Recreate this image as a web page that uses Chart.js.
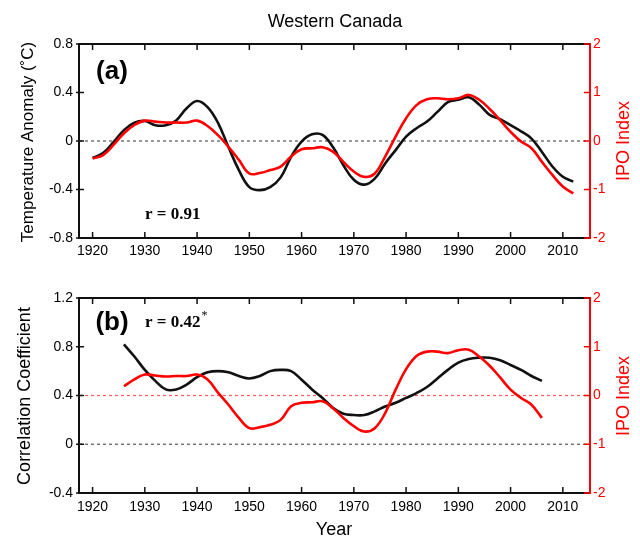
<!DOCTYPE html>
<html>
<head>
<meta charset="utf-8">
<script src="https://cdn.jsdelivr.net/npm/chart.js@4.4.1/dist/chart.umd.min.js"></script>
<style>
  html, body { margin: 0; padding: 0; background: #fff; }
  #wrap { position: relative; width: 640px; height: 539px; overflow: hidden; }
  canvas { position: absolute; left: 0; }
  #c1 { top: 0; }
  #c2 { top: 270px; }
</style>
</head>
<body>
<div id="wrap">
  <canvas id="c1" width="640" height="270"></canvas>
  <canvas id="c2" width="640" height="269"></canvas>
</div>
<script>
// ---------- DATA ----------
const chartTitle = 'Western Canada';
const xTickValues = [1920, 1930, 1940, 1950, 1960, 1970, 1980, 1990, 2000, 2010];

const yearsTop = [1920,1922,1924,1926,1928,1930,1932,1934,1936,1938,1940,1942,1944,1946,1948,1950,1952,1954,1956,1958,1960,1962,1964,1966,1968,1970,1972,1974,1976,1978,1980,1982,1984,1986,1988,1990,1992,1994,1996,1998,2000,2002,2004,2006,2008,2010,2012];
const tempAnomaly = [-0.14,-0.10,-0.01,0.09,0.15,0.165,0.13,0.13,0.17,0.27,0.33,0.28,0.15,-0.05,-0.24,-0.38,-0.405,-0.38,-0.30,-0.13,-0.005,0.055,0.05,-0.05,-0.20,-0.32,-0.36,-0.31,-0.185,-0.075,0.036,0.105,0.16,0.24,0.32,0.34,0.36,0.30,0.215,0.18,0.13,0.08,0.02,-0.09,-0.21,-0.295,-0.335];
const ipoTop = [-0.36,-0.29,-0.08,0.16,0.33,0.42,0.40,0.38,0.38,0.38,0.42,0.31,0.12,-0.12,-0.39,-0.67,-0.66,-0.60,-0.53,-0.32,-0.17,-0.15,-0.13,-0.22,-0.43,-0.63,-0.74,-0.67,-0.32,0.09,0.47,0.74,0.86,0.88,0.86,0.88,0.95,0.85,0.66,0.43,0.19,-0.01,-0.15,-0.43,-0.70,-0.94,-1.08];

const yearsBot = [1926,1928,1930,1932,1934,1936,1938,1940,1942,1944,1946,1948,1950,1952,1954,1956,1958,1960,1962,1964,1966,1968,1970,1972,1974,1976,1978,1980,1982,1984,1986,1988,1990,1992,1994,1996,1998,2000,2002,2004,2006];
const corrCoef = [0.82,0.72,0.61,0.52,0.45,0.45,0.49,0.55,0.59,0.60,0.59,0.56,0.54,0.56,0.60,0.61,0.60,0.53,0.45,0.38,0.30,0.25,0.24,0.24,0.27,0.31,0.34,0.38,0.42,0.47,0.54,0.61,0.67,0.70,0.71,0.71,0.69,0.65,0.61,0.56,0.52];
const ipoBot = [0.19,0.33,0.43,0.41,0.39,0.40,0.40,0.43,0.33,0.06,-0.19,-0.46,-0.67,-0.65,-0.60,-0.50,-0.22,-0.15,-0.14,-0.12,-0.26,-0.46,-0.63,-0.74,-0.67,-0.36,0.12,0.54,0.81,0.90,0.90,0.87,0.93,0.94,0.80,0.61,0.37,0.12,-0.05,-0.19,-0.46];

const yTopTicks = [-0.8, -0.4, 0, 0.4, 0.8];
const yTopLabels = ['-0.8', '-0.4', '0', '0.4', '0.8'];
const yBotTicks = [-0.4, 0, 0.4, 0.8, 1.2];
const yBotLabels = ['-0.4', '0', '0.4', '0.8', '1.2'];
const ipoTicks = [-2, -1, 0, 1, 2];
const ipoLabels = ['-2', '-1', '0', '1', '2'];

// ---------- STYLE ----------
const RED = 'rgb(255,0,0)';
const BLACK = '#111111';
Chart.defaults.font.family = "'Liberation Sans', Arial, sans-serif";
Chart.defaults.color = '#000';
const X_MIN = 1917.4, X_MAX = 2015.2;

function pts(xs, ys) { return xs.map((x, i) => ({ x: x, y: ys[i] })); }

function makeTicks(values) { return values.map(v => ({ value: v })); }

function labelFor(values, labels) {
  return function (v) {
    for (let i = 0; i < values.length; i++) if (Math.abs(values[i] - v) < 1e-9) return labels[i];
    return '';
  };
}

// plugin: inward ticks, top border, dashed ref lines, annotations
function decorPlugin(opts) {
  return {
    id: 'decor' + opts.id,
    beforeDatasetsDraw(chart) {
      const ctx = chart.ctx, a = chart.chartArea;
      ctx.save();
      ctx.lineWidth = 1.2;
      ctx.setLineDash([3, 3]);
      opts.refLines.forEach(r => {
        const y = chart.scales[r.axis].getPixelForValue(r.value);
        ctx.strokeStyle = r.color;
        ctx.beginPath();
        ctx.moveTo(a.left, y);
        ctx.lineTo(a.right, y);
        ctx.stroke();
      });
      ctx.restore();
    },
    afterDraw(chart) {
      const ctx = chart.ctx, a = chart.chartArea;
      ctx.save();
      // top border
      ctx.strokeStyle = BLACK;
      ctx.lineWidth = 2;
      ctx.beginPath();
      ctx.moveTo(a.left - 1, a.top);
      ctx.lineTo(a.right, a.top);
      ctx.stroke();
      // inward ticks
      ctx.lineWidth = 1.5;
      const xs = chart.scales.x;
      xs.ticks.forEach(t => {
        const px = xs.getPixelForValue(t.value);
        ctx.beginPath();
        ctx.moveTo(px, a.bottom); ctx.lineTo(px, a.bottom - 6);
        ctx.moveTo(px, a.top); ctx.lineTo(px, a.top + 6);
        ctx.stroke();
      });
      const yl = chart.scales.y;
      yl.ticks.forEach(t => {
        const py = yl.getPixelForValue(t.value);
        ctx.beginPath();
        ctx.moveTo(a.left - 3, py); ctx.lineTo(a.left + 5, py);
        ctx.stroke();
      });
      const yr = chart.scales.y2;
      ctx.strokeStyle = RED;
      yr.ticks.forEach(t => {
        const py = yr.getPixelForValue(t.value);
        ctx.beginPath();
        ctx.moveTo(a.right - 6, py); ctx.lineTo(a.right, py);
        ctx.stroke();
      });
      // texts
      opts.texts.forEach(tx => {
        ctx.save();
        ctx.font = tx.font;
        ctx.fillStyle = tx.color || '#000';
        ctx.textAlign = tx.align || 'center';
        ctx.textBaseline = 'middle';
        ctx.translate(tx.x, tx.y);
        if (tx.rot) ctx.rotate(tx.rot);
        ctx.fillText(tx.text, 0, 0);
        if (tx.sup) {
          const w = ctx.measureText(tx.text).width;
          ctx.font = tx.supFont;
          ctx.textAlign = 'left';
          ctx.fillText(tx.sup, (tx.align === 'left' ? w : w / 2) + 1, -7);
        }
        ctx.restore();
      });
      ctx.restore();
    }
  };
}

function makeChart(canvasId, cfg) {
  return new Chart(document.getElementById(canvasId), {
    type: 'line',
    data: {
      datasets: [
        { data: cfg.black, borderColor: BLACK, borderWidth: 2.6, pointRadius: 0, tension: 0.4, yAxisID: 'y', order: 2 },
        { data: cfg.red, borderColor: RED, borderWidth: 2.6, pointRadius: 0, tension: 0.4, yAxisID: 'y2', order: 1 }
      ]
    },
    options: {
      responsive: false,
      animation: false,
      layout: { padding: { top: cfg.padTop, left: 0, right: 0, bottom: 0 } },
      plugins: { legend: { display: false }, tooltip: { enabled: false }, title: { display: false } },
      scales: {
        x: {
          type: 'linear', position: 'bottom', min: X_MIN, max: X_MAX,
          afterBuildTicks: s => { s.ticks = makeTicks(xTickValues); },
          afterFit: s => { s.height = cfg.xHeight; },
          ticks: { font: { size: 14 }, color: '#000', padding: cfg.xPad, maxRotation: 0, autoSkip: false, callback: v => String(v) },
          grid: { display: false, drawTicks: false },
          border: { display: true, color: BLACK, width: 2 }
        },
        y: {
          position: 'left', min: cfg.yTicks[0], max: cfg.yTicks[cfg.yTicks.length - 1],
          afterBuildTicks: s => { s.ticks = makeTicks(cfg.yTicks); },
          afterFit: s => { s.width = 79; },
          ticks: { font: { size: 14 }, color: '#000', padding: 6, callback: labelFor(cfg.yTicks, cfg.yLabels) },
          grid: { display: false, drawTicks: false },
          border: { display: true, color: BLACK, width: 2 }
        },
        y2: {
          position: 'right', min: ipoTicks[0], max: ipoTicks[ipoTicks.length - 1],
          afterBuildTicks: s => { s.ticks = makeTicks(ipoTicks); },
          afterFit: s => { s.width = 50; },
          ticks: { font: { size: 14 }, color: RED, padding: 3, callback: labelFor(ipoTicks, ipoLabels) },
          grid: { display: false, drawTicks: false },
          border: { display: true, color: RED, width: 2 }
        }
      }
    },
    plugins: [decorPlugin(cfg.decor)]
  });
}

const serifFont = "bold 17px 'Liberation Serif', 'Times New Roman', serif";

makeChart('c1', {
  black: pts(yearsTop, tempAnomaly),
  red: pts(yearsTop, ipoTop),
  padTop: 44, xHeight: 32, xPad: 5,
  yTicks: yTopTicks, yLabels: yTopLabels,
  decor: {
    id: 'a',
    refLines: [{ axis: 'y', value: 0, color: '#555' }],
    texts: [
      { text: chartTitle, x: 335, y: 22, font: "18px 'Liberation Sans', Arial, sans-serif" },
      { text: 'Temperature Anomaly (\u02DAC)', x: 28, y: 142, rot: -Math.PI / 2, font: "17px 'Liberation Sans', Arial, sans-serif" },
      { text: 'IPO Index', x: 624, y: 141, rot: -Math.PI / 2, color: RED, font: "18px 'Liberation Sans', Arial, sans-serif" },
      { text: '(a)', x: 112, y: 72, font: "bold 26px 'Liberation Sans', Arial, sans-serif" },
      { text: 'r = 0.91', x: 145, y: 215, align: 'left', font: serifFont }
    ]
  }
});

makeChart('c2', {
  black: pts(yearsBot, corrCoef),
  red: pts(yearsBot, ipoBot),
  padTop: 28, xHeight: 46, xPad: 6,
  yTicks: yBotTicks, yLabels: yBotLabels,
  decor: {
    id: 'b',
    refLines: [
      { axis: 'y', value: 0, color: '#555' },
      { axis: 'y2', value: 0, color: 'rgb(255,90,90)' }
    ],
    texts: [
      { text: 'Correlation Coefficient', x: 25, y: 126, rot: -Math.PI / 2, font: "18px 'Liberation Sans', Arial, sans-serif" },
      { text: 'IPO Index', x: 624, y: 126, rot: -Math.PI / 2, color: RED, font: "18px 'Liberation Sans', Arial, sans-serif" },
      { text: 'Year', x: 334, y: 260, font: "18px 'Liberation Sans', Arial, sans-serif" },
      { text: '(b)', x: 112, y: 53, font: "bold 26px 'Liberation Sans', Arial, sans-serif" },
      { text: 'r = 0.42', x: 145, y: 53, align: 'left', font: serifFont, sup: '*', supFont: "12px 'Liberation Serif', serif" }
    ]
  }
});
</script>
</body>
</html>
